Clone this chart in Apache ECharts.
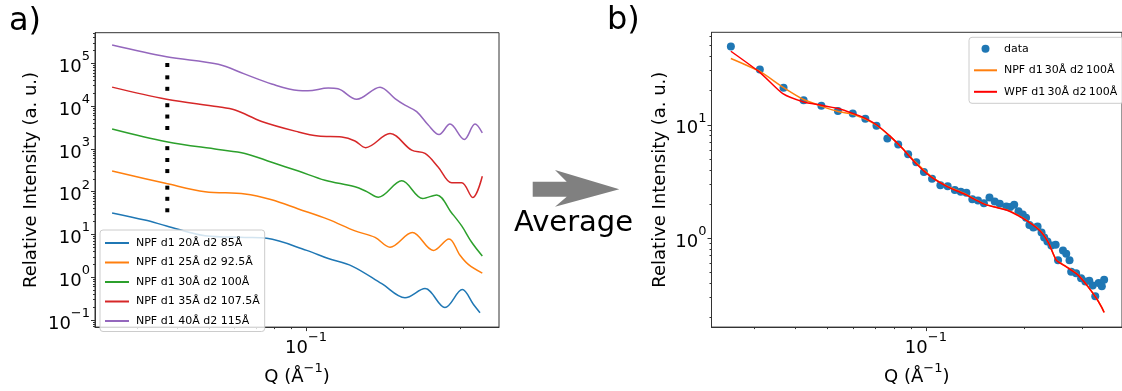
<!DOCTYPE html>
<html>
<head>
<meta charset="utf-8">
<script src="https://cdn.jsdelivr.net/npm/echarts@6.0.0/dist/echarts.min.js"></script>
<style>
  html, body { margin: 0; padding: 0; background: #fff; }
  #chart { width: 1122px; height: 391px; }
</style>
</head>
<body>
<div id="chart"></div>
<script>
// ---- panel a) : simulated NPF curves (Q in 1/Å, relative intensity) ----
const q20 = [0.0251, 0.0317, 0.0370, 0.0487, 0.0647, 0.0756, 0.1005, 0.1172, 0.1388, 0.1716, 0.2025, 0.2336, 0.2693, 0.3047, 0.3296, 0.3457];
const i20 = [31.8, 21.7, 15.8, 9.33, 8.53, 8.09, 4.23, 2.73, 1.82, 0.705, 0.331, 0.541, 0.195, 0.513, 0.233, 0.147];

const q25 = [0.0251, 0.0370, 0.0487, 0.0647, 0.0783, 0.0947, 0.1172, 0.1418, 0.1636, 0.1820, 0.2134, 0.2479, 0.2771, 0.2998, 0.3180, 0.3514];
const i25 = [303, 155, 100, 88.6, 64.6, 39.4, 22.5, 12.1, 8.53, 5.04, 11.1, 4.23, 7.83, 3.25, 1.99, 1.24];

const q30 = [0.0251, 0.0370, 0.0535, 0.0647, 0.0783, 0.0947, 0.1145, 0.1418, 0.1542, 0.1675, 0.1979, 0.2298, 0.2539, 0.2825, 0.3034, 0.3258, 0.3514];
const i30 = [2930, 1470, 966, 782, 486, 303, 185, 130, 100, 74.1, 179, 69.2, 84.1, 31.8, 15.8, 6.55, 3.13];

const q35 = [0.0251, 0.0370, 0.0535, 0.0603, 0.0729, 0.0947, 0.1092, 0.1290, 0.1418, 0.1530, 0.1820, 0.2124, 0.2336, 0.2568, 0.2825, 0.3034, 0.3281, 0.3514];
const i35 = [27800, 14500, 9680, 8090, 4390, 2490, 1990, 1890, 1530, 1070, 2280, 931, 782, 374, 161, 161, 72.9, 229];

const q40 = [0.0251, 0.0370, 0.0535, 0.0647, 0.0783, 0.0947, 0.1014, 0.1172, 0.1256, 0.1435, 0.1695, 0.1886, 0.2025, 0.2201, 0.2387, 0.2581, 0.2791, 0.3091, 0.3336, 0.3514];
const i40 = [268000, 142000, 94900, 56000, 33000, 23200, 22900, 26400, 25400, 14500, 27800, 15000, 10500, 7430, 3670, 2160, 3800, 1660, 3800, 2370];

// dotted guide drawn between the curves
const guideQ = 0.0372;
const guideI = [91500, 47100, 25400, 10500, 5710, 3080, 1040, 550, 303, 124, 68.1, 36.7];

const leftNames = ['NPF d1 20Å d2 85Å', 'NPF d1 25Å d2 92.5Å', 'NPF d1 30Å d2 100Å', 'NPF d1 35Å d2 107.5Å', 'NPF d1 40Å d2 115Å'];

// ---- panel b) : averaged data and fits ----
const avgQ = [0.02545, 0.03119, 0.03683, 0.0424, 0.04803, 0.05395, 0.05986, 0.06538, 0.0707, 0.0763,
  0.08235, 0.08828, 0.09349, 0.09862, 0.1044, 0.1107, 0.1165, 0.1225, 0.1277, 0.1329,
  0.1385, 0.1441, 0.1502, 0.1562, 0.1621, 0.1679, 0.1758, 0.1807, 0.1858, 0.1915,
  0.1973, 0.2019, 0.2067, 0.2125, 0.2189, 0.2251, 0.2293, 0.2346, 0.2412, 0.2485,
  0.2527, 0.2616, 0.2677, 0.2739, 0.2771, 0.2869, 0.2971, 0.3061, 0.3147, 0.3222,
  0.3281, 0.3359, 0.3436, 0.3492];
const avgI = [49.2, 30.8, 21.2, 16.5, 14.7, 13.2, 12.6, 11.3, 9.80, 7.57,
  6.71, 5.50, 4.67, 3.82, 3.34, 2.93, 2.87, 2.65, 2.56, 2.51,
  2.20, 2.14, 2.03, 2.28, 2.10, 2.01, 1.90, 1.88, 1.97, 1.72,
  1.61, 1.51, 1.30, 1.24, 1.26, 1.12, 1.01, 0.929, 0.858, 0.870,
  0.636, 0.776, 0.727, 0.636, 0.504, 0.488, 0.442, 0.413, 0.419, 0.381,
  0.306, 0.400, 0.374, 0.427];

const fitQ = [0.02545, 0.03119, 0.03665, 0.0424, 0.04803, 0.05395, 0.05986, 0.06538, 0.0707, 0.07775,
  0.08527, 0.09246, 0.1037, 0.1165, 0.1308, 0.1519, 0.1766, 0.1983, 0.2225, 0.2359,
  0.2497, 0.2677, 0.2904, 0.3112, 0.3297, 0.3436, 0.3492];
const npfFitI = [38.5, 29.6, 21.5, 16.7, 14.6, 13.1, 12.4, 11.2, 9.9, 7.9,
  6.1, 4.75, 3.5, 2.85, 2.47, 1.98, 1.77, 1.49, 1.17, 0.92,
  0.64, 0.56, 0.475, 0.375, 0.298, 0.244, 0.221];
const wpfFitI = [44.6, 29.0, 18.8, 15.9, 14.9, 13.9, 12.6, 11.4, 10.0, 7.94,
  6.08, 4.67, 3.46, 2.83, 2.45, 1.97, 1.76, 1.48, 1.16, 0.916,
  0.636, 0.557, 0.472, 0.374, 0.297, 0.243, 0.220];

// thin spaces keep these names apart from the panel a) ones
const rightNames = ['data', 'NPF d1\u200930Å d2\u2009100Å', 'WPF d1\u200930Å d2\u2009100Å'];

// axis limits in log10 units
const xLim = [-1.6533, -0.4025];
const yLimA = [-1.167, 5.717];
const yLimB = [-0.787, 1.8166];

const FONT = 'DejaVu Sans';
const tab10 = ['#1f77b4', '#ff7f0e', '#2ca02c', '#d62728', '#9467bd'];

const lg = Math.log10;
const toLog = (qs, is) => qs.map((q, k) => [lg(q), lg(is[k])]);

function majorTicks(lim) {
  const out = [];
  for (let n = Math.ceil(lim[0]); n <= Math.floor(lim[1]); n++) out.push(n);
  return out;
}
function minorTicks(lim) {
  const out = [];
  for (let n = Math.floor(lim[0]); n <= Math.ceil(lim[1]); n++) {
    for (let k = 2; k <= 9; k++) {
      const v = n + lg(k);
      if (v >= lim[0] && v <= lim[1]) out.push(v);
    }
  }
  return out;
}
function powLabel(v) {
  const e = Math.round(v);
  return '{b|10}{s|' + (e < 0 ? '\u2212' + (-e) : e) + '}';
}
const tickRich = {
  b: { fontFamily: FONT, fontSize: 18, color: '#000', lineHeight: 26, verticalAlign: 'bottom' },
  s: { fontFamily: FONT, fontSize: 13, color: '#000', lineHeight: 13, verticalAlign: 'top' }
};
const nameRich = {
  n: { fontFamily: FONT, fontSize: 18, color: '#000', lineHeight: 24, verticalAlign: 'bottom' },
  s: { fontFamily: FONT, fontSize: 13, color: '#000', lineHeight: 13, verticalAlign: 'top' }
};
const axisColor = '#333';

function majorAxis(grid, lim, pos, ticks, extra) {
  return Object.assign({
    type: 'value', gridIndex: grid, min: lim[0], max: lim[1], position: pos,
    axisLine: { show: true, onZero: false, lineStyle: { color: axisColor, width: 1 } },
    axisTick: { show: true, customValues: ticks, length: 4, lineStyle: { color: axisColor, width: 1 } },
    axisLabel: { customValues: ticks, formatter: powLabel, rich: tickRich, margin: pos === 'bottom' ? 4 : 5 },
    splitLine: { show: false }
  }, extra);
}
function minorAxis(grid, lim, pos) {
  return {
    type: 'value', gridIndex: grid, min: lim[0], max: lim[1], position: pos,
    axisLine: { show: false, onZero: false },
    axisTick: { show: true, customValues: minorTicks(lim), length: 2, lineStyle: { color: axisColor, width: 1 } },
    axisLabel: { show: false },
    splitLine: { show: false }
  };
}

const xName = '{n|Q (Å}{s|\u22121}{n|)}';
const xExtra = { name: xName, nameLocation: 'middle', nameGap: 31, nameTextStyle: { rich: nameRich } };
const yExtra = gap => ({
  name: 'Relative Intensity (a. u.)', nameLocation: 'middle', nameRotate: 90, nameGap: gap,
  nameTextStyle: { fontFamily: FONT, fontSize: 18, color: '#000' }
});

const leftQ = [q20, q25, q30, q35, q40];
const leftI = [i20, i25, i30, i35, i40];

const series = leftNames.map((name, k) => ({
  name: name, type: 'line', xAxisIndex: 0, yAxisIndex: 0,
  data: toLog(leftQ[k], leftI[k]),
  symbol: 'none', smooth: 0.35,
  lineStyle: { color: tab10[k], width: 1.5 }, itemStyle: { color: tab10[k] }
}));
series.push({
  name: 'guide', type: 'scatter', xAxisIndex: 0, yAxisIndex: 0,
  data: guideI.map(v => [lg(guideQ), lg(v)]),
  symbol: 'rect', symbolSize: 4, itemStyle: { color: '#000', opacity: 1 }, z: 3
});
series.push({
  name: rightNames[0], type: 'scatter', xAxisIndex: 2, yAxisIndex: 2,
  data: toLog(avgQ, avgI), symbol: 'circle', symbolSize: 8,
  itemStyle: { color: '#1f77b4', opacity: 1 }
});
series.push({
  name: rightNames[1], type: 'line', xAxisIndex: 2, yAxisIndex: 2,
  data: toLog(fitQ, npfFitI), symbol: 'none', smooth: 0.2,
  lineStyle: { color: '#ff7f0e', width: 1.5 }, itemStyle: { color: '#ff7f0e' }
});
series.push({
  name: rightNames[2], type: 'line', xAxisIndex: 2, yAxisIndex: 2,
  data: toLog(fitQ, wpfFitI), symbol: 'none', smooth: 0.2,
  lineStyle: { color: '#ff0000', width: 1.5 }, itemStyle: { color: '#ff0000' }
});

// line entries in the legends: line only, no marker
const noMarker = { color: 'transparent', borderColor: 'transparent', borderWidth: 0 };
const legendBox = {
  orient: 'vertical', backgroundColor: 'rgba(255,255,255,0.8)',
  borderColor: '#cccccc', borderWidth: 1, borderRadius: 3,
  textStyle: { fontFamily: FONT, fontSize: 11, color: '#000', padding: [0, 0, 0, 2] }
};

const chart = echarts.init(document.getElementById('chart'), null, { renderer: 'canvas' });
chart.setOption({
  animation: false,
  backgroundColor: '#fff',
  grid: [
    { left: 95, top: 32.7, width: 404, height: 300.6, show: true, borderColor: axisColor, borderWidth: 1 },
    { left: 711.5, top: 32.3, width: 415, height: 301, show: true, borderColor: axisColor, borderWidth: 1 }
  ],
  xAxis: [
    majorAxis(0, xLim, 'bottom', majorTicks(xLim), xExtra),
    minorAxis(0, xLim, 'bottom'),
    majorAxis(1, xLim, 'bottom', majorTicks(xLim), xExtra),
    minorAxis(1, xLim, 'bottom')
  ],
  yAxis: [
    majorAxis(0, yLimA, 'left', majorTicks(yLimA), yExtra(55)),
    minorAxis(0, yLimA, 'left'),
    majorAxis(1, yLimB, 'left', majorTicks(yLimB), yExtra(42)),
    minorAxis(1, yLimB, 'left')
  ],
  legend: [
    Object.assign({}, legendBox, {
      left: 100, top: 230, itemWidth: 24, itemHeight: 10, itemGap: 8.5, padding: [7.5, 5, 5, 4],
      data: leftNames.map(n => ({ name: n, itemStyle: noMarker }))
    }),
    Object.assign({}, legendBox, {
      left: 969, top: 37.3, itemWidth: 23, itemHeight: 8, itemGap: 10.5, padding: [6, 6, 6, 4],
      data: [{ name: rightNames[0] }, { name: rightNames[1], itemStyle: noMarker }, { name: rightNames[2], itemStyle: noMarker }]
    })
  ],
  graphic: [
    { type: 'text', x: 9, y: 21.5, style: { text: 'a)', font: '32px "DejaVu Sans"', fill: '#000', verticalAlign: 'middle' } },
    { type: 'text', x: 607, y: 21, style: { text: 'b)', font: '32px "DejaVu Sans"', fill: '#000', verticalAlign: 'middle' } },
    { type: 'text', x: 514, y: 223, style: { text: 'Average', font: '29px "DejaVu Sans"', fill: '#000', verticalAlign: 'middle' } },
    { type: 'polygon', shape: { points: [[532.7, 181.7], [566.7, 181.7], [555, 170], [619.3, 189.3], [555, 206.7], [566.7, 196.7], [532.7, 196.7]] },
      style: { fill: '#808080' } }
  ],
  series: series
});
</script>
</body>
</html>
